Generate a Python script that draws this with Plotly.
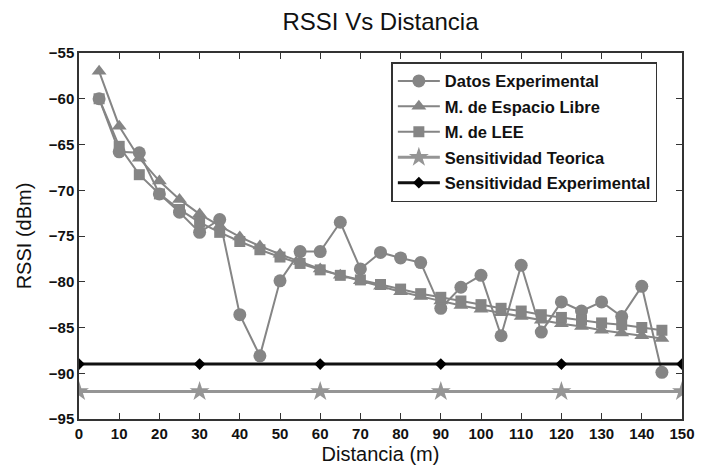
import plotly.graph_objects as go

distancia = [5, 10, 15, 20, 25, 30, 35, 40, 45, 50, 55, 60, 65, 70, 75, 80, 85, 90, 95,
             100, 105, 110, 115, 120, 125, 130, 135, 140, 145]
datos_exp = [-60.0, -65.8, -65.9, -70.4, -72.4, -74.6, -73.2, -83.6, -88.1, -79.9, -76.7, -76.7,
             -73.5, -78.6, -76.8, -77.4, -77.9, -82.9, -80.6, -79.3, -85.9, -78.2, -85.5, -82.2,
             -83.2, -82.2, -83.8, -80.5, -89.9]
espacio_libre = [-57.0, -63.0, -66.5, -69.0, -71.0, -72.6, -73.9, -75.1, -76.1, -77.0, -77.8, -78.6,
                 -79.3, -79.9, -80.5, -81.1, -81.6, -82.1, -82.6, -83.0, -83.4, -83.8, -84.2, -84.6,
                 -84.9, -85.3, -85.6, -85.9, -86.2]
modelo_lee = [-60.0, -65.2, -68.3, -70.4, -72.1, -73.5, -74.6, -75.6, -76.5, -77.3, -78.0, -78.7,
              -79.3, -79.8, -80.3, -80.8, -81.3, -81.7, -82.1, -82.5, -82.9, -83.2, -83.6, -83.9,
              -84.2, -84.5, -84.7, -85.0, -85.3]
sens_x = [0, 30, 60, 90, 120, 150]
sens_teorica = [-92, -92, -92, -92, -92, -92]
sens_experimental = [-89, -89, -89, -89, -89, -89]

x_ticks = list(range(0, 151, 10))
y_ticks = list(range(-95, -54, 5))

GRAY = "#858585"
fig = go.Figure()

fig.add_trace(go.Scatter(x=distancia, y=datos_exp, mode="lines+markers", name="Datos Experimental",
                         legendgroup="a", line=dict(color=GRAY, width=2),
                         marker=dict(symbol="circle", size=13, color=GRAY)))
fig.add_trace(go.Scatter(x=distancia, y=espacio_libre, mode="lines+markers", name="M. de Espacio Libre",
                         legendgroup="b", line=dict(color=GRAY, width=2),
                         marker=dict(symbol="triangle-up", size=13, color=GRAY)))
fig.add_trace(go.Scatter(x=distancia, y=modelo_lee, mode="lines+markers", name="M. de LEE",
                         legendgroup="c", line=dict(color=GRAY, width=2),
                         marker=dict(symbol="square", size=11, color=GRAY)))
fig.add_trace(go.Scatter(x=sens_x, y=sens_teorica, mode="lines+markers", name="Sensitividad Teorica",
                         legendgroup="d", line=dict(color="#959595", width=3),
                         marker=dict(symbol="star", size=15, color="#959595")))
fig.add_trace(go.Scatter(x=sens_x, y=sens_experimental, mode="lines+markers", name="Sensitividad Experimental",
                         legendgroup="e", line=dict(color="#111111", width=3),
                         marker=dict(symbol="diamond", size=9, color="#000000")))

axis_common = dict(showline=True, linecolor="#333333", linewidth=1.5, mirror="ticks",
                   ticks="inside", ticklen=6, tickcolor="#333333", showgrid=False, zeroline=False,
                   tickfont=dict(family="Liberation Sans, Arial", size=15, color="#111111", weight="bold"))

fig.update_layout(
    width=707, height=474,
    margin=dict(l=79, r=18, t=53, b=54),
    paper_bgcolor="white", plot_bgcolor="white",
    title=dict(text="RSSI Vs Distancia", x=0.5, xref="paper", y=0.955, yref="container",
               xanchor="center", yanchor="middle",
               font=dict(family="Liberation Sans, Arial", size=24, color="#111111")),
    xaxis=dict(range=[0, 150], tickvals=x_ticks,
               title=dict(text="Distancia (m)", standoff=6,
                          font=dict(family="Liberation Sans, Arial", size=20, color="#111111")),
               **axis_common),
    yaxis=dict(range=[-95, -55], tickvals=y_ticks,
               title=dict(text="RSSI (dBm)", standoff=12,
                          font=dict(family="Liberation Sans, Arial", size=20, color="#111111")),
               **axis_common),
    legend=dict(x=0.518, y=0.975, xanchor="left", yanchor="top",
                bgcolor="white", bordercolor="#333333", borderwidth=1.5,
                tracegroupgap=1, itemwidth=42,
                font=dict(family="Liberation Sans, Arial", size=16.5, color="#111111", weight="bold")),
    showlegend=True,
)

fig.write_html("out.html")
